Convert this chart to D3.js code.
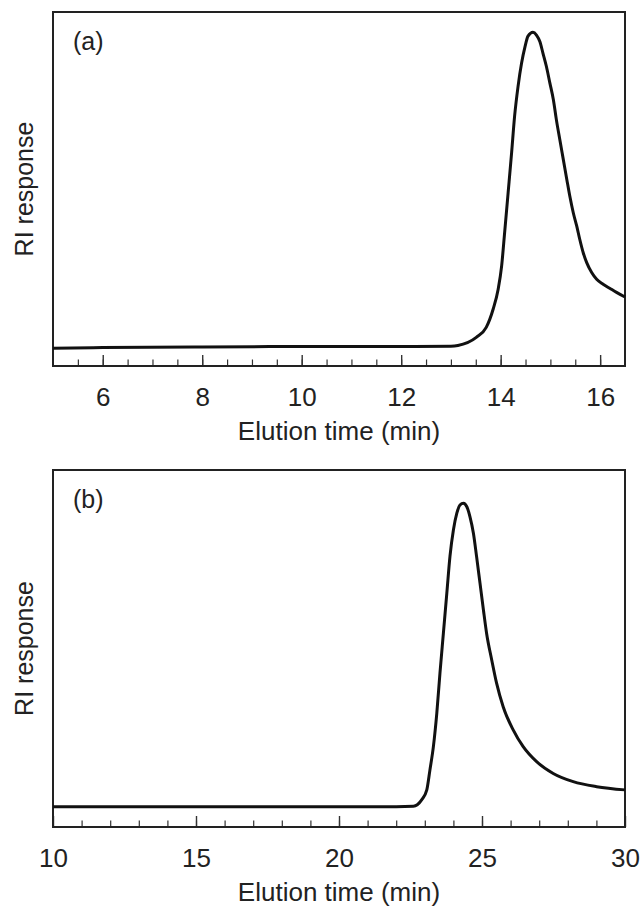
<!DOCTYPE html>
<html>
<head>
<meta charset="utf-8">
<script src="https://cdn.jsdelivr.net/npm/d3@7"></script>
<style>
  html, body { margin: 0; padding: 0; background: #fff; }
  svg text { font-family: "Liberation Sans", Arial, Helvetica, sans-serif; fill: #222; }
</style>
</head>
<body>
<svg id="chart" width="641" height="907"></svg>
<script>
// ---------- Data ----------
// Panel (a): elution time (min) vs RI response (arbitrary units, 0-100 = frame height)
const timeA = [5, 6, 8, 10, 12, 13, 13.14, 13.51, 13.71, 13.85, 13.95, 14.02, 14.08, 14.15, 14.22, 14.28,
  14.35, 14.42, 14.49, 14.55, 14.65, 14.72, 14.79, 14.85, 14.92, 14.99, 15.06, 15.12, 15.19, 15.26,
  15.33, 15.39, 15.46, 15.53, 15.59, 15.66, 15.73, 15.83, 15.93, 16.06, 16.20, 16.33, 16.5];
const respA = [5.0, 5.2, 5.4, 5.5, 5.5, 5.6, 5.8, 8.1, 10.9, 16.1, 21.7, 28.3, 37.7, 48.9, 60.2, 70.5,
  79.0, 85.5, 90.2, 93.2, 94.3, 93.5, 91.6, 88.4, 84.6, 79.9, 75.2, 69.6, 63.9, 58.3,
  52.7, 48.0, 43.3, 39.5, 35.8, 32.0, 29.2, 26.4, 24.5, 23.1, 21.9, 20.8, 19.5];

// Panel (b)
const timeB = [10, 15, 20, 22, 22.6, 22.89, 23.07, 23.18, 23.30, 23.42, 23.53, 23.65, 23.77, 23.88, 24.00,
  24.12, 24.23, 24.35, 24.47, 24.58, 24.70, 24.81, 24.93, 25.05, 25.16, 25.34, 25.51, 25.74, 26.09,
  26.44, 26.91, 27.49, 28.19, 29.01, 30];
const respB = [5.7, 5.7, 5.7, 5.7, 5.8, 7.6, 10.4, 16.0, 22.5, 31.9, 43.1, 54.3, 65.5, 75.8, 83.2,
  87.9, 90.2, 90.7, 89.7, 86.9, 82.3, 75.8, 68.3, 60.8, 54.3, 46.8, 40.3, 33.7, 27.2,
  22.5, 18.3, 15.0, 12.7, 11.3, 10.4];

// Axes / ticks
const domainA = [5, 16.5];
const majorTicksA = [6, 8, 10, 12, 14, 16];
const minorTicksA = d3.range(5.5, 16.5, 0.5);
const domainB = [10, 30];
const majorTicksB = [10, 15, 20, 25, 30];
const minorTicksB = d3.range(11, 30, 1);

const panelLabels = ["(a)", "(b)"];
const xTitle = "Elution time (min)";
const yTitle = "RI response";

// ---------- Drawing ----------
const svg = d3.select("#chart");
const left = 53, right = 625;

const panels = [
  { top: 12, bottom: 366, domain: domainA, major: majorTicksA, minor: minorTicksA, t: timeA, r: respA, label: panelLabels[0] },
  { top: 470, bottom: 827, domain: domainB, major: majorTicksB, minor: minorTicksB, t: timeB, r: respB, label: panelLabels[1] }
];

panels.forEach(p => {
  const x = d3.scaleLinear().domain(p.domain).range([left, right]);
  const y = d3.scaleLinear().domain([0, 100]).range([p.bottom, p.top]);
  const g = svg.append("g");

  // minor ticks
  g.append("g")
    .attr("transform", `translate(0,${p.bottom})`)
    .call(d3.axisBottom(x).tickValues(p.minor).tickSize(-6.5).tickFormat(""))
    .call(s => s.select(".domain").remove())
    .call(s => s.selectAll("line").attr("stroke", "#333").attr("stroke-width", 1.2));

  // major ticks with labels
  g.append("g")
    .attr("transform", `translate(0,${p.bottom})`)
    .call(d3.axisBottom(x).tickValues(p.major).tickSize(-11).tickPadding(22).tickFormat(d3.format("d")))
    .call(s => s.select(".domain").remove())
    .call(s => s.selectAll("line").attr("stroke", "#333").attr("stroke-width", 1.4))
    .call(s => s.selectAll("text").attr("font-size", 26).attr("fill", "#222")
      .style("font-family", '"Liberation Sans", Arial, sans-serif'));

  // frame
  g.append("rect")
    .attr("x", left).attr("y", p.top)
    .attr("width", right - left).attr("height", p.bottom - p.top)
    .attr("fill", "none").attr("stroke", "#222").attr("stroke-width", 2);

  // curve
  const pts = p.t.map((d, i) => [d, p.r[i]]);
  g.append("path")
    .datum(pts)
    .attr("fill", "none")
    .attr("stroke", "#111")
    .attr("stroke-width", 3)
    .attr("stroke-linejoin", "round")
    .attr("d", d3.line().x(d => x(d[0])).y(d => y(d[1])).curve(d3.curveMonotoneX));

  // panel label
  g.append("text")
    .attr("x", left + 20).attr("y", p.top + 38)
    .attr("font-size", 25)
    .text(p.label);

  // x title
  g.append("text")
    .attr("x", (left + right) / 2).attr("y", p.bottom + 74)
    .attr("text-anchor", "middle")
    .attr("font-size", 26)
    .text(xTitle);

  // y title
  g.append("text")
    .attr("transform", `translate(33,${(p.top + p.bottom) / 2}) rotate(-90)`)
    .attr("text-anchor", "middle")
    .attr("font-size", 25)
    .text(yTitle);
});
</script>
</body>
</html>
